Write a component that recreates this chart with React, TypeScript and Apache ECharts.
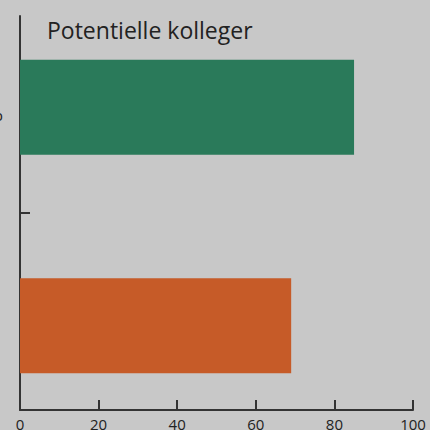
import React, { useEffect, useRef } from "react";
import * as echarts from "echarts";

const titleText = "Potentielle kolleger";
const categories = ["", "Uden job"];
const values = [69, 85];
const barColors = ["#c65b28", "#2a7a5a"];
const xTicks = [0, 20, 40, 60, 80, 100];

export default function App() {
  const ref = useRef<HTMLDivElement>(null);
  useEffect(() => {
    if (!ref.current) return;
    const chart = echarts.init(ref.current, null, { renderer: "svg" });
    const font = "Open Sans";
    chart.setOption({
      animation: false,
      backgroundColor: "#c8c8c8",
      title: {
        text: titleText,
        left: 47,
        top: 18,
        padding: 0,
        textStyle: { fontFamily: font, fontSize: 23, fontWeight: "normal", color: "#222" },
      },
      grid: [
        { left: 20, right: 17, top: 16, bottom: 20, containLabel: false, outerBoundsMode: "none" },
        { left: 20, right: 17, top: -2, bottom: -5, containLabel: false, outerBoundsMode: "none" },
      ],
      xAxis: [
        {
          gridIndex: 0,
          type: "value",
          min: xTicks[0],
          max: xTicks[xTicks.length - 1],
          interval: 20,
          splitLine: { show: false },
          axisLine: { show: true, lineStyle: { color: "#333", width: 2 } },
          axisTick: { show: true, inside: true, length: 10, lineStyle: { color: "#333", width: 2 } },
          axisLabel: { show: true, margin: 6, fontFamily: font, fontSize: 15, color: "#222" },
        },
        {
          gridIndex: 1,
          type: "value",
          min: xTicks[0],
          max: xTicks[xTicks.length - 1],
          show: false,
        },
      ],
      yAxis: [
        {
          gridIndex: 0,
          type: "value",
          min: 0,
          max: 2,
          interval: 1,
          splitLine: { show: false },
          axisLine: { show: true, lineStyle: { color: "#333", width: 2 } },
          axisTick: { show: true, inside: true, length: 10, customValues: [1], lineStyle: { color: "#333", width: 2 } },
          axisLabel: {
            show: true,
            customValues: [0.5, 1.5],
            formatter: (v: number) => categories[Math.floor(v)],
            margin: 17,
            fontFamily: font,
            fontSize: 15,
            color: "#222",
          },
        },
        {
          gridIndex: 1,
          type: "category",
          data: categories,
          show: false,
        },
      ],
      series: [
        {
          type: "bar",
          xAxisIndex: 1,
          yAxisIndex: 1,
          barWidth: 95,
          data: values.map((v, i) => ({ value: v, itemStyle: { color: barColors[i] } })),
        },
      ],
    });
    return () => chart.dispose();
  }, []);
  return <div ref={ref} style={{ position: "absolute", left: 0, top: 0, width: 430, height: 430 }} />;
}
